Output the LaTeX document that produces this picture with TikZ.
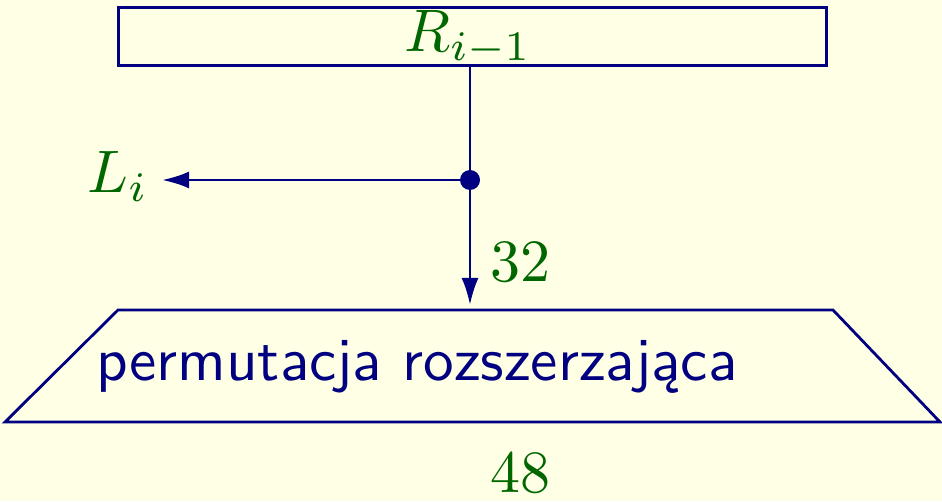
\documentclass[tikz,border=0pt]{standalone}
\usepackage{fontspec}
\usetikzlibrary{arrows.meta}
\definecolor{bgc}{RGB}{255,255,230}
\definecolor{navy}{RGB}{0,0,128}
\definecolor{dgreen}{RGB}{0,102,0}
\tikzset{
  lbl/.style={text=dgreen, font=\normalsize, scale=6, inner sep=0pt},
  wire/.style={draw=navy, line width=2.8pt},
  arr/.style={wire, -{Latex[length=27pt,width=17pt]}},
  boxline/.style={draw=navy, line width=2.8pt}
}
\begin{document}
\begin{tikzpicture}[x=1pt,y=1pt]
\fill[bgc] (0,0) rectangle (942,501);
\useasboundingbox (0,0) rectangle (942,501);
% top box
\node[boxline, minimum width=708pt, minimum height=58pt, inner sep=0pt, anchor=south west] (rbox) at (117,434) {};
\node[lbl, anchor=base] (rlab) at (468,449) {$R_{i-1}$};
% junction
\coordinate (j) at (470,321);
\draw[wire] (rbox.south -| j) -- (j);
\fill[navy] (j) circle (10pt);
% left arrow
\node[lbl, anchor=base] (li) at (118,308) {$L_i$};
\coordinate (lend) at (162,321);
\draw[arr] (j) -- (lend);
% down arrow
\coordinate (dend) at (470,196);
\draw[arr] (j) -- (dend);
\node[lbl, anchor=base west] (n32) at (489,219) {$32$};
% trapezoid
\coordinate (t1) at (118,191);
\coordinate (t2) at (833,191);
\coordinate (t3) at (940,79);
\coordinate (t4) at (5,79);
\draw[boxline, line join=miter] (t1) -- (t2) -- (t3) -- (t4) -- cycle;
\node[text=navy, font=\sffamily\normalsize, scale=6.12, inner sep=0pt, anchor=base west] (perm) at (95,120) {permutacja rozszerzająca};
\node[lbl, anchor=base west] (n48) at (489,9) {$48$};
\end{tikzpicture}
\end{document}
